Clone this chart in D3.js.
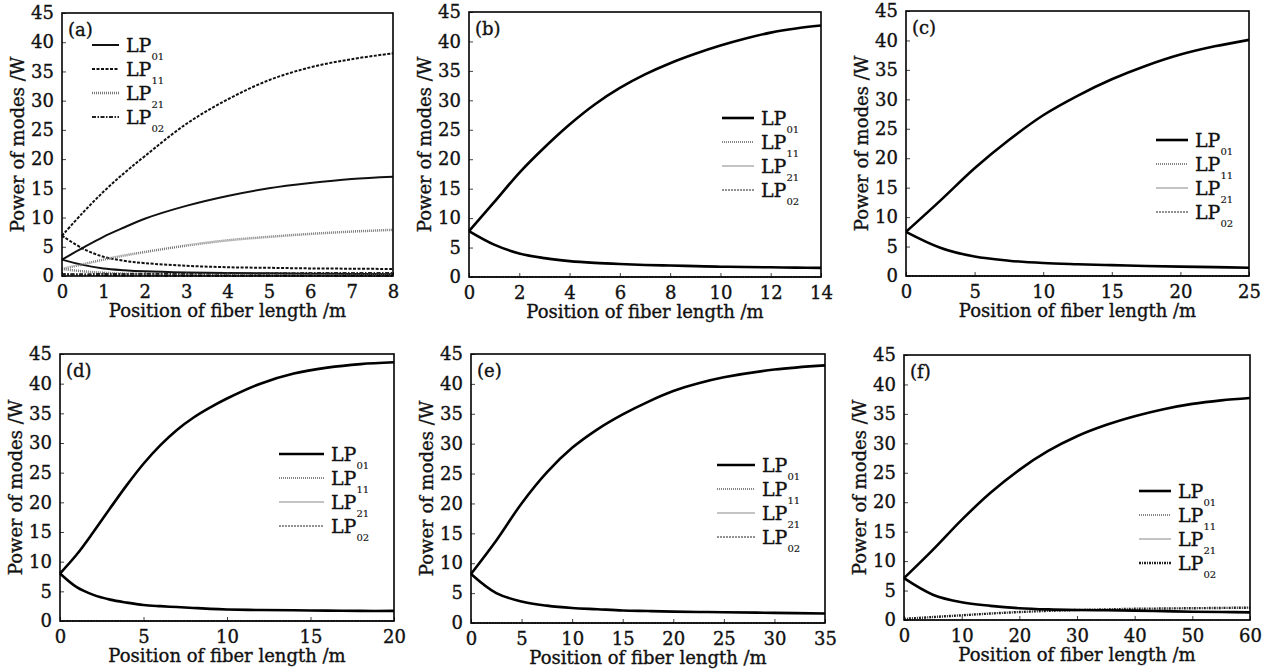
<!DOCTYPE html>
<html>
<head>
<meta charset="utf-8">
<script src="https://cdn.jsdelivr.net/npm/d3@7"></script>
<style>
  body { margin: 0; background: #fff; }
  svg text { font-family: "DejaVu Serif", "Liberation Serif", serif; fill: #111; stroke: #111; stroke-width: 0.35px; }
</style>
</head>
<body>
<svg id="chart" width="1277" height="671"></svg>
<script>
// ---- data ----
const yTicks = [0, 5, 10, 15, 20, 25, 30, 35, 40, 45]
const modeNames = ['01', '11', '21', '02']

// (a)
const xA = [0, 0.5, 1, 1.5, 2, 3, 4, 5, 6, 7, 8]
const lp01RiseA = [2.8, 4.8, 6.7, 8.3, 9.8, 12.0, 13.7, 15.0, 15.9, 16.6, 17.0]
const lp01DecayA = [2.8, 1.9, 1.3, 1.0, 0.8, 0.6, 0.5, 0.45, 0.4, 0.35, 0.3]
const lp11RiseA = [6.9, 10.8, 14.4, 17.6, 20.5, 26.0, 30.2, 33.5, 35.7, 37.1, 38.1]
const lp11DecayA = [6.9, 4.7, 3.3, 2.6, 2.2, 1.75, 1.5, 1.4, 1.3, 1.25, 1.2]
const lp21RiseA = [1.2, 2.0, 2.8, 3.5, 4.1, 5.2, 6.1, 6.7, 7.2, 7.6, 7.9]
const lp21DecayA = [1.2, 0.8, 0.55, 0.4, 0.3, 0.2, 0.15, 0.12, 0.1, 0.1, 0.1]
const lp02RiseA = [0.3, 0.3, 0.35, 0.35, 0.4, 0.4, 0.45, 0.45, 0.5, 0.5, 0.5]
const lp02DecayA = [0.3, 0.2, 0.15, 0.1, 0.08, 0.05, 0.05, 0.05, 0.05, 0.05, 0.05]

// (b)
const xB = [0, 1, 2, 3, 4, 5, 6, 7, 8, 9, 10, 11, 12, 13, 14]
const lp01RiseB = [7.8, 12.7, 17.7, 22.0, 25.9, 29.3, 32.1, 34.4, 36.3, 37.9, 39.3, 40.5, 41.5, 42.2, 42.7]
const lp01DecayB = [7.8, 5.5, 4.0, 3.2, 2.7, 2.4, 2.2, 2.05, 1.95, 1.85, 1.75, 1.7, 1.65, 1.6, 1.55]
const zeroB = [0, 0, 0, 0, 0, 0, 0, 0, 0, 0, 0, 0, 0, 0, 0]

// (c)
const xC = [0, 2.5, 5, 7.5, 10, 12.5, 15, 17.5, 20, 22.5, 25]
const lp01RiseC = [7.5, 12.8, 18.3, 23.1, 27.3, 30.6, 33.4, 35.7, 37.6, 39.0, 40.1]
const lp01DecayC = [7.5, 4.8, 3.3, 2.6, 2.2, 2.0, 1.85, 1.7, 1.6, 1.5, 1.4]
const zeroC = [0, 0, 0, 0, 0, 0, 0, 0, 0, 0, 0]

// (d)
const xD = [0, 1, 2, 3, 4, 5, 6, 7, 8, 9, 10, 12, 14, 16, 18, 20]
const lp01RiseD = [8.0, 11.2, 15.0, 19.0, 22.9, 26.5, 29.6, 32.2, 34.3, 36.0, 37.5, 40.0, 41.7, 42.7, 43.3, 43.6]
const lp01DecayD = [8.0, 5.7, 4.4, 3.6, 3.1, 2.7, 2.5, 2.35, 2.2, 2.05, 1.95, 1.85, 1.8, 1.75, 1.7, 1.7]
const zeroD = [0, 0, 0, 0, 0, 0, 0, 0, 0, 0, 0, 0, 0, 0, 0, 0]

// (e)
const xE = [0, 2.5, 5, 7.5, 10, 12.5, 15, 17.5, 20, 22.5, 25, 30, 35]
const lp01RiseE = [8.2, 13.8, 20.0, 25.2, 29.3, 32.4, 34.9, 37.0, 38.8, 40.1, 41.1, 42.4, 43.1]
const lp01DecayE = [8.2, 5.0, 3.6, 2.9, 2.5, 2.3, 2.1, 2.0, 1.9, 1.85, 1.8, 1.7, 1.6]
const zeroE = [0, 0, 0, 0, 0, 0, 0, 0, 0, 0, 0, 0, 0]

// (f)
const xF = [0, 5, 10, 15, 20, 25, 30, 35, 40, 45, 50, 55, 60]
const lp01RiseF = [7.1, 11.9, 17.0, 21.6, 25.5, 28.7, 31.2, 33.1, 34.6, 35.8, 36.7, 37.3, 37.7]
const lp01DecayF = [7.1, 4.3, 3.0, 2.4, 2.0, 1.8, 1.7, 1.65, 1.6, 1.5, 1.4, 1.35, 1.3]
const lp02RiseF = [0.2, 0.5, 0.8, 1.1, 1.35, 1.55, 1.7, 1.8, 1.9, 1.95, 2.0, 2.05, 2.1]
const zeroF = [0, 0, 0, 0, 0, 0, 0, 0, 0, 0, 0, 0, 0]

// ---- line styles ----
const styleA = {
    '01': { stroke: '#111', width: 2, dash: null },
    '11': { stroke: '#111', width: 2, dash: '3,1.5' },
    '21': { stroke: '#777', width: 2.5, dash: '1,1' },
    '02': { stroke: '#222', width: 2, dash: '4,1.5,1.5,1.5' }
}
const styleThin = {
    '01': { stroke: '#000', width: 2.6, dash: null },
    '11': { stroke: '#111', width: 1, dash: '1,1' },
    '21': { stroke: '#888', width: 1, dash: null },
    '02': { stroke: '#222', width: 1, dash: '2,1' }
}
const styleF = Object.assign({}, styleThin, {
    '02': { stroke: '#222', width: 2.4, dash: '2,1,1,1' }
})

const panels = [
    { label: '(a)', box: { l: 62, r: 393, t: 13, b: 276 }, xMax: 8, xTicks: d3.range(0, 9, 1),
      leg: { x: 92, y: 45, len: 27 }, style: styleA, x: xA,
      series: [['01', lp01RiseA], ['01', lp01DecayA], ['11', lp11RiseA], ['11', lp11DecayA],
               ['21', lp21RiseA], ['21', lp21DecayA], ['02', lp02RiseA], ['02', lp02DecayA]] },
    { label: '(b)', box: { l: 469, r: 821, t: 12, b: 277 }, xMax: 14, xTicks: d3.range(0, 15, 2),
      leg: { x: 722, y: 118, len: 32 }, style: styleThin, x: xB,
      series: [['11', zeroB], ['21', zeroB], ['02', zeroB], ['01', lp01RiseB], ['01', lp01DecayB]] },
    { label: '(c)', box: { l: 906, r: 1249, t: 11, b: 276 }, xMax: 25, xTicks: d3.range(0, 26, 5),
      leg: { x: 1156, y: 140, len: 32 }, style: styleThin, x: xC,
      series: [['11', zeroC], ['21', zeroC], ['02', zeroC], ['01', lp01RiseC], ['01', lp01DecayC]] },
    { label: '(d)', box: { l: 60, r: 394, t: 354, b: 621 }, xMax: 20, xTicks: d3.range(0, 21, 5),
      leg: { x: 279, y: 454, len: 45 }, style: styleThin, x: xD,
      series: [['11', zeroD], ['21', zeroD], ['02', zeroD], ['01', lp01RiseD], ['01', lp01DecayD]] },
    { label: '(e)', box: { l: 471, r: 825, t: 354, b: 623 }, xMax: 35, xTicks: d3.range(0, 36, 5),
      leg: { x: 717, y: 465, len: 38 }, style: styleThin, x: xE,
      series: [['11', zeroE], ['21', zeroE], ['02', zeroE], ['01', lp01RiseE], ['01', lp01DecayE]] },
    { label: '(f)', box: { l: 904, r: 1250, t: 355, b: 620 }, xMax: 60, xTicks: d3.range(0, 61, 10),
      leg: { x: 1139, y: 491, len: 32 }, style: styleF, x: xF,
      series: [['11', zeroF], ['21', zeroF], ['02', lp02RiseF], ['01', lp01RiseF], ['01', lp01DecayF]] }
]

const svg = d3.select('#chart')

panels.forEach(p => {
    let b = p.box
    let x = d3.scaleLinear().domain([0, p.xMax]).range([b.l, b.r])
    let y = d3.scaleLinear().domain([0, 45]).range([b.b, b.t])
    let g = svg.append('g')

    // series
    let line = d3.line()
        .x((d, i) => x(p.x[i]))
        .y(d => y(d))
        .curve(d3.curveCatmullRom.alpha(0.5))

    p.series.forEach(s => {
        let st = p.style[s[0]]
        g.append('path')
            .attr('d', line(s[1]))
            .attr('fill', 'none')
            .attr('stroke', st.stroke)
            .attr('stroke-width', st.width)
            .attr('stroke-dasharray', st.dash)
    })

    // axes with inward ticks
    let xAxis = d3.axisBottom(x).tickValues(p.xTicks).tickSize(-4).tickPadding(9).tickFormat(d3.format('d'))
    let yAxis = d3.axisLeft(y).tickValues(yTicks).tickSize(-4).tickPadding(8)

    let gx = g.append('g').attr('transform', `translate(0,${b.b})`).call(xAxis)
    let gy = g.append('g').attr('transform', `translate(${b.l},0)`).call(yAxis)
    gx.select('.domain').remove()
    gy.select('.domain').remove()
    g.selectAll('.tick line').attr('stroke', '#444')
    g.selectAll('.tick text').attr('font-size', 18).attr('fill', '#111')
        .style('font-family', '"DejaVu Serif", serif')

    // frame
    g.append('rect')
        .attr('x', b.l).attr('y', b.t)
        .attr('width', b.r - b.l).attr('height', b.b - b.t)
        .attr('fill', 'none')
        .attr('stroke', '#000')
        .attr('stroke-width', 1.6)

    // axis titles
    g.append('text')
        .attr('x', (b.l + b.r) / 2)
        .attr('y', b.b + 41)
        .attr('text-anchor', 'middle')
        .attr('font-size', 18)
        .text('Position of fiber length /m')

    g.append('text')
        .attr('transform', `translate(${b.l - 38},${(b.t + b.b) / 2}) rotate(-90)`)
        .attr('text-anchor', 'middle')
        .attr('font-size', 18)
        .text('Power of modes /W')

    // panel label
    g.append('text')
        .attr('x', b.l + 6)
        .attr('y', b.t + 23)
        .attr('font-size', 18)
        .text(p.label)

    // legend
    modeNames.forEach((m, i) => {
        let st = p.style[m]
        let ly = p.leg.y + i * 24
        g.append('line')
            .attr('x1', p.leg.x).attr('x2', p.leg.x + p.leg.len)
            .attr('y1', ly).attr('y2', ly)
            .attr('stroke', st.stroke)
            .attr('stroke-width', st.width)
            .attr('stroke-dasharray', st.dash)
        let t = g.append('text')
            .attr('x', p.leg.x + p.leg.len + 7)
            .attr('y', ly + 7)
            .attr('font-size', 19)
        t.append('tspan').text('LP')
        t.append('tspan').attr('font-size', 10).attr('dy', 8).style('stroke-width', 0.15).text(m)
    })
})
</script>
</body>
</html>
